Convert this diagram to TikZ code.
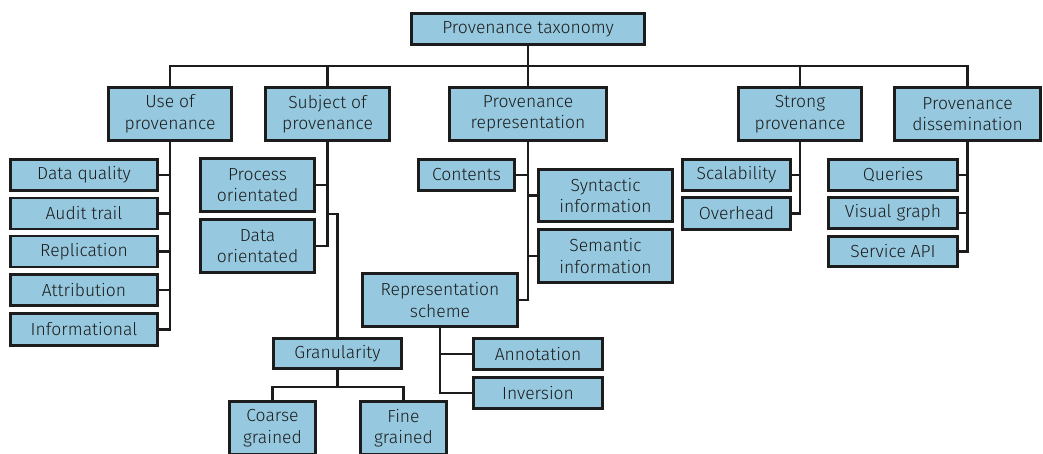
\documentclass[tikz,border=0pt]{standalone}
\usepackage{fontspec}
\setmainfont{Fira Sans Light}
\definecolor{boxfill}{HTML}{96C9DF}
\definecolor{ink}{HTML}{1C1C1C}
\begin{document}
\begin{tikzpicture}[x=1pt,y=-1pt,
  box/.style={draw=ink, line width=2.6pt, fill=boxfill, text=ink, align=center,
    inner sep=0pt, font=\fontsize{17.5}{21.5}\selectfont},
  link/.style={draw=ink, line width=2.4pt},
]
\useasboundingbox (0,0) rectangle (1043,454);
\clip (0,0) rectangle (1043,454);

% root
\node[box, minimum width=233, minimum height=31] (root) at (528,29) {Provenance taxonomy};

% first level
\node[box, minimum width=123, minimum height=53] (use)    at (170,114)   {Use of\\provenance};
\node[box, minimum width=124, minimum height=53] (subj)   at (327.5,114) {Subject of\\provenance};
\node[box, minimum width=157, minimum height=53] (rep)    at (528,114)   {Provenance\\representation};
\node[box, minimum width=123, minimum height=53] (strong) at (800,114)   {Strong\\provenance};
\node[box, minimum width=146, minimum height=53] (diss)   at (967.5,114) {Provenance\\dissemination};

% use of provenance
\node[box, minimum width=147, minimum height=31] (dq)   at (84,175)   {Data quality};
\node[box, minimum width=147, minimum height=31] (at)   at (84,213.5) {Audit trail};
\node[box, minimum width=147, minimum height=31] (rp)   at (84,251.5) {Replication};
\node[box, minimum width=147, minimum height=31] (attr) at (84,290)   {Attribution};
\node[box, minimum width=147, minimum height=32] (inf)  at (84,329.5) {Informational};

% subject of provenance
\node[box, minimum width=114, minimum height=53] (proc)   at (257.5,185) {Process\\orientated};
\node[box, minimum width=114, minimum height=53] (data)   at (257.5,246) {Data\\orientated};
\node[box, minimum width=128, minimum height=30] (gran)   at (337.5,353.5) {Granularity};
\node[box, minimum width=86,  minimum height=53] (coarse) at (272.5,428) {Coarse\\grained};
\node[box, minimum width=86,  minimum height=53] (fine)   at (403.5,428) {Fine\\grained};

% provenance representation
\node[box, minimum width=96,  minimum height=31] (cont)   at (466.5,175) {Contents};
\node[box, minimum width=134, minimum height=52] (synt)   at (605.5,195.5) {Syntactic\\information};
\node[box, minimum width=134, minimum height=53] (sem)    at (605.5,256) {Semantic\\information};
\node[box, minimum width=155, minimum height=53] (scheme) at (440,300) {Representation\\scheme};
\node[box, minimum width=129, minimum height=31] (annot)  at (538,354) {Annotation};
\node[box, minimum width=129, minimum height=31] (inv)    at (538,393) {Inversion};

% strong provenance
\node[box, minimum width=108, minimum height=31] (scal) at (736.5,175)   {Scalability};
\node[box, minimum width=108, minimum height=32] (over) at (736.5,213.5) {Overhead};

% provenance dissemination
\node[box, minimum width=129, minimum height=31] (qry) at (893,175)   {Queries};
\node[box, minimum width=129, minimum height=31] (vis) at (893,213)   {Visual graph};
\node[box, minimum width=129, minimum height=30] (api) at (893,251.5) {Service API};

% junction points
\coordinate (bus) at (528,66);
\coordinate (gb)  at (327.5,214);
\coordinate (gj)  at (337.5,387);

% connectors
\draw[link] (root.south) -- (bus);
\draw[link] (bus) -| (use.north);
\draw[link] (bus) -| (subj.north);
\draw[link] (bus) -- (rep.north);
\draw[link] (bus) -| (strong.north);
\draw[link] (bus) -| (diss.north);

\draw[link] (use.south) |- (dq.east);
\draw[link] (use.south) |- (at.east);
\draw[link] (use.south) |- (rp.east);
\draw[link] (use.south) |- (attr.east);
\draw[link] (use.south) |- (inf.east);

\draw[link] (subj.south) |- (proc.east);
\draw[link] (subj.south) |- (data.east);
\draw[link] (gb) -| (gran.north);
\draw[link] (gran.south) -- (gj);
\draw[link] (gj) -| (coarse.north);
\draw[link] (gj) -| (fine.north);

\draw[link] (rep.south) |- (cont.east);
\draw[link] (rep.south) |- (synt.west);
\draw[link] (rep.south) |- (sem.west);
\draw[link] (rep.south) |- (scheme.east);
\draw[link] (scheme.south) |- (annot.west);
\draw[link] (scheme.south) |- (inv.west);

\draw[link] (strong.south) |- (scal.east);
\draw[link] (strong.south) |- (over.east);

\draw[link] (diss.south) |- (qry.east);
\draw[link] (diss.south) |- (vis.east);
\draw[link] (diss.south) |- (api.east);
\end{tikzpicture}
\end{document}
